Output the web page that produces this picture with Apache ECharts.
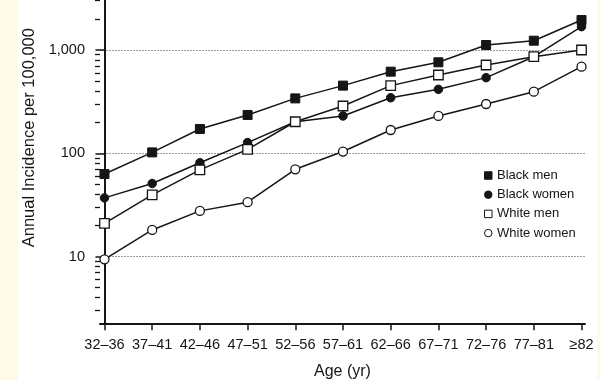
<!DOCTYPE html>
<html><head><meta charset="utf-8">
<script src="https://cdn.jsdelivr.net/npm/echarts@6/dist/echarts.min.js"></script>
<style>html,body{margin:0;padding:0;background:#fff}#c{width:600px;height:380px}</style>
</head><body><div id="c"></div>
<script>
const categories = ['32–36','37–41','42–46','47–51','52–56','57–61','62–66','67–71','72–76','77–81','≥82'];
const blackMen = [63,102,172,235,340,452,617,760,1118,1230,1950];
const blackWomen = [37,51,81,127,202,230,345,416,540,861,1683];
const whiteMen = [21,39.5,69,109,202,287,452,573,716,861,1000];
const whiteWomen = [9.4,18.1,27.7,33.6,70,104,168,230,300,395,690];
const yMajorTicks = [10,100,1000];
const yMinorTicks = [3,4,5,6,7,8,9,20,30,40,50,60,70,80,90,200,300,400,500,600,700,800,900,2000,3000];
const seriesNames = ['Black men','Black women','White men','White women'];

const xIdx = categories.map((c,i)=>i);
const pts = arr => arr.map((v,i)=>[i,v]);
const INK = '#151515';
const FONT = '"Liberation Sans", Arial, Helvetica, sans-serif';

const chart = echarts.init(document.getElementById('c'), null, {renderer:'canvas'});
const filled = {color: INK, borderColor: INK, borderWidth: 1};
const open = {color: '#fff', borderColor: INK, borderWidth: 1.3};
const mk = (name, data, symbol, size, style) => ({
  name, type: 'line', data: pts(data), symbol, symbolSize: size,
  lineStyle: {color: INK, width: 1.5}, itemStyle: style, animation: false,
  emphasis: {disabled: true}
});
chart.setOption({
  backgroundColor: '#fff',
  animation: false,
  textStyle: {fontFamily: FONT},
  graphic: [
    {type:'rect', left:0, top:0, shape:{width:18, height:380}, style:{fill:'#FFF9E8'}, silent:true},
    {type:'rect', left:597, top:0, shape:{width:3, height:380}, style:{fill:'#FFF9E8'}, silent:true}
  ],
  grid: {left: 100, right: 15, top: 0, bottom: 56.7, containLabel: false, outerBoundsMode: 'none'},
  legend: {
    orient: 'vertical', left: 479, top: 164, itemWidth: 7.5, itemHeight: 7.5, itemGap: 6.2,
    textStyle: {fontSize: 13, color: INK, fontFamily: FONT},
    data: [
      {name: seriesNames[0], icon: 'rect', itemStyle: filled},
      {name: seriesNames[1], icon: 'circle', itemStyle: filled},
      {name: seriesNames[2], icon: 'rect', itemStyle: {color:'#fff', borderColor: INK, borderWidth: 1}},
      {name: seriesNames[3], icon: 'circle', itemStyle: {color:'#fff', borderColor: INK, borderWidth: 1}}
    ]
  },
  xAxis: {
    type: 'value', min: -0.094, max: 10.073,
    name: 'Age (yr)', nameLocation: 'middle', nameGap: 40,
    nameTextStyle: {fontSize: 16, color: INK, fontFamily: FONT},
    axisLine: {lineStyle: {color: INK, width: 2}},
    axisTick: {customValues: xIdx, length: 7, lineStyle: {color: INK, width: 1.5}},
    axisLabel: {customValues: xIdx, formatter: v => categories[Math.round(v)], fontSize: 14.5, color: INK, margin: 14, fontFamily: FONT},
    splitLine: {show: false}
  },
  yAxis: [
    {
      type: 'log', logBase: 10, min: 2.26, max: 3048,
      name: 'Annual Incidence per 100,000', nameLocation: 'middle', nameGap: 62,
      nameTextStyle: {fontSize: 16.5, color: INK, fontFamily: FONT, padding: [0,0,0,48]},
      axisLine: {show: true, lineStyle: {color: INK, width: 2}},
      axisTick: {customValues: yMajorTicks, length: 9, lineStyle: {color: INK, width: 1.5}},
      axisLabel: {customValues: yMajorTicks, formatter: v => Number(v).toLocaleString('en-US'), fontSize: 14.5, color: INK, margin: 15, fontFamily: FONT},
      splitLine: {show: true, lineStyle: {color: '#9a9a9a', type: [2,1], width: 1}}
    },
    {
      type: 'log', logBase: 10, min: 2.26, max: 3048, position: 'left',
      axisLine: {show: false},
      axisTick: {customValues: yMinorTicks, length: 5, lineStyle: {color: INK, width: 1.3}},
      axisLabel: {show: false},
      splitLine: {show: false}
    }
  ],
  series: [
    mk(seriesNames[0], blackMen, 'rect', 9, filled),
    mk(seriesNames[1], blackWomen, 'circle', 8.5, filled),
    mk(seriesNames[2], whiteMen, 'rect', 9.5, open),
    mk(seriesNames[3], whiteWomen, 'circle', 9, open)
  ]
});
</script></body></html>
